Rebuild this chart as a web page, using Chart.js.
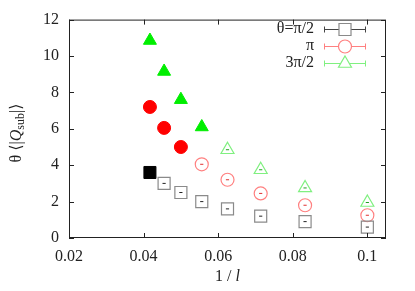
<!DOCTYPE html>
<html>
<head>
<meta charset="utf-8">
<script src="https://cdn.jsdelivr.net/npm/chart.js@4"></script>
<style>
  html, body { margin: 0; padding: 0; background: #fff; }
  #wrap { width: 415px; height: 291px; }
</style>
</head>
<body>
<div id="wrap"><canvas id="chart" width="415" height="291"></canvas></div>
<script>
// 1/l for l = 24, 22, 20, 18, 16, 14, 12, 10
const invL = [0.0417, 0.0455, 0.05, 0.0556, 0.0625, 0.0714, 0.0833, 0.1];
const halfPi = [3.6, 3.0, 2.5, 2.0, 1.6, 1.2, 0.9, 0.6];
const onePi = [7.2, 6.05, 5.0, 4.05, 3.2, 2.45, 1.8, 1.25];
const threeHalfPi = [10.85, 9.15, 7.6, 6.1, 4.85, 3.75, 2.75, 1.95];
// how many points (from the largest l) are drawn filled
const filledCount = [1, 3, 4];
const seriesNames = ['θ=π/2', 'π', '3π/2'];
const xTicks = [0.02, 0.04, 0.06, 0.08, 0.1];
const yTicks = [0, 2, 4, 6, 8, 10, 12];

const FONT = '"Liberation Serif", "DejaVu Serif", serif';
const series = [
    { values: halfPi, style: 'rect', r: 8.5, fill: '#000000', open: '#8a8a8a', dash: '#222' },
    { values: onePi, style: 'circle', r: 6.5, fill: '#ff0000', open: '#ff8080', dash: '#e03030' },
    { values: threeHalfPi, style: 'triangle', r: 7.5, fill: '#00ee00', open: '#80f080', dash: '#20a020' }
];

const datasets = [];
series.forEach((s, i) => {
    const pts = invL.map((x, k) => ({ x: x, y: s.values[k] }));
    const n = filledCount[i];
    datasets.push({
        data: pts.slice(0, n), pointStyle: s.style, pointRadius: s.r,
        backgroundColor: s.fill, borderColor: s.fill, borderWidth: 1
    });
    datasets.push({
        data: pts.slice(n), pointStyle: s.style, pointRadius: s.r,
        backgroundColor: 'rgba(0,0,0,0)', borderColor: s.open, borderWidth: 1.2
    });
    datasets.push({
        data: pts.slice(n), pointStyle: 'line', pointRadius: 1.6,
        borderColor: s.dash, borderWidth: 1
    });
});

// frame, inward ticks, axis titles and legend
const decor = {
    id: 'decor',
    afterDraw(chart) {
        const ctx = chart.ctx;
        const a = chart.chartArea;
        const xs = chart.scales.x, ys = chart.scales.y;
        ctx.save();
        ctx.strokeStyle = '#222';
        ctx.lineWidth = 1;
        ctx.strokeRect(a.left + 0.5, a.top + 0.5, a.right - a.left - 1, a.bottom - a.top - 1);
        ctx.beginPath();
        xTicks.forEach(v => {
            const p = Math.round(xs.getPixelForValue(v)) + 0.5;
            ctx.moveTo(p, a.bottom); ctx.lineTo(p, a.bottom - 5);
            ctx.moveTo(p, a.top); ctx.lineTo(p, a.top + 5);
        });
        yTicks.forEach(v => {
            const p = Math.round(ys.getPixelForValue(v)) + 0.5;
            ctx.moveTo(a.left, p); ctx.lineTo(a.left + 5, p);
            ctx.moveTo(a.right, p); ctx.lineTo(a.right - 5, p);
        });
        ctx.stroke();

        // x title: 1 / l
        ctx.fillStyle = '#222';
        ctx.textBaseline = 'middle';
        const t1 = '1 / ';
        ctx.font = 'italic 16px ' + FONT;
        const wl = ctx.measureText('l').width;
        ctx.font = '16px ' + FONT;
        const w1 = ctx.measureText(t1).width;
        let x0 = (a.left + a.right) / 2 - (w1 + wl) / 2;
        ctx.textAlign = 'left';
        ctx.fillText(t1, x0, 277);
        ctx.font = 'italic 16px ' + FONT;
        ctx.fillText('l', x0 + w1, 277);

        // y title: θ ⟨|Q_sub|⟩
        ctx.save();
        ctx.translate(17, 133);
        ctx.rotate(-Math.PI / 2);
        const parts = [
            { t: 'θ ⟨|', f: '16px ' + FONT, dy: 0 },
            { t: 'Q', f: 'italic 16px ' + FONT, dy: 0 },
            { t: 'sub', f: '12px ' + FONT, dy: 4 },
            { t: '|⟩', f: '16px ' + FONT, dy: 0 }
        ];
        let total = 0;
        parts.forEach(p => { ctx.font = p.f; p.w = ctx.measureText(p.t).width; total += p.w; });
        let cx = -total / 2;
        parts.forEach(p => { ctx.font = p.f; ctx.fillText(p.t, cx, p.dy); cx += p.w; });
        ctx.restore();

        // legend
        const rows = [29, 46, 63];
        seriesNames.forEach((name, i) => {
            const s = series[i];
            const y = rows[i];
            ctx.font = '16px ' + FONT;
            ctx.textAlign = 'right';
            ctx.fillStyle = '#222';
            ctx.fillText(name, 314, y);
            ctx.strokeStyle = i === 0 ? '#444' : s.open;
            ctx.lineWidth = 1;
            ctx.beginPath();
            ctx.moveTo(324, y + 0.5); ctx.lineTo(366, y + 0.5);
            ctx.moveTo(324.5, y - 2.5); ctx.lineTo(324.5, y + 3.5);
            ctx.moveTo(365.5, y - 2.5); ctx.lineTo(365.5, y + 3.5);
            ctx.stroke();
            ctx.strokeStyle = s.open;
            ctx.lineWidth = 1.2;
            ctx.fillStyle = '#fff';
            Chart.helpers.drawPoint(ctx, { pointStyle: s.style, radius: s.r, borderWidth: 1.2, rotation: 0 }, 345, y + 0.5);
        });
        ctx.restore();
    }
};

new Chart(document.getElementById('chart').getContext('2d'), {
    type: 'scatter',
    data: { datasets: datasets },
    plugins: [decor],
    options: {
        responsive: false,
        animation: false,
        layout: { padding: { left: 0, right: 29, top: 16, bottom: 0 } },
        plugins: { legend: { display: false }, tooltip: { enabled: false } },
        scales: {
            x: {
                type: 'linear', min: 0.02, max: 0.105,
                afterFit: s => { s.height = 53; },
                afterBuildTicks: s => { s.ticks = xTicks.map(v => ({ value: v })); },
                grid: { display: false, drawTicks: false },
                border: { display: false },
                ticks: {
                    padding: 9, color: '#222', font: { family: FONT, size: 16 },
                    callback: v => String(Number(v.toFixed(3)))
                }
            },
            y: {
                type: 'linear', min: 0, max: 12,
                afterFit: s => { s.width = 69; },
                afterBuildTicks: s => { s.ticks = yTicks.map(v => ({ value: v })); },
                grid: { display: false, drawTicks: false },
                border: { display: false },
                ticks: {
                    padding: 10, color: '#222', font: { family: FONT, size: 16 },
                    callback: v => String(v)
                }
            }
        }
    }
});
</script>
</body>
</html>
